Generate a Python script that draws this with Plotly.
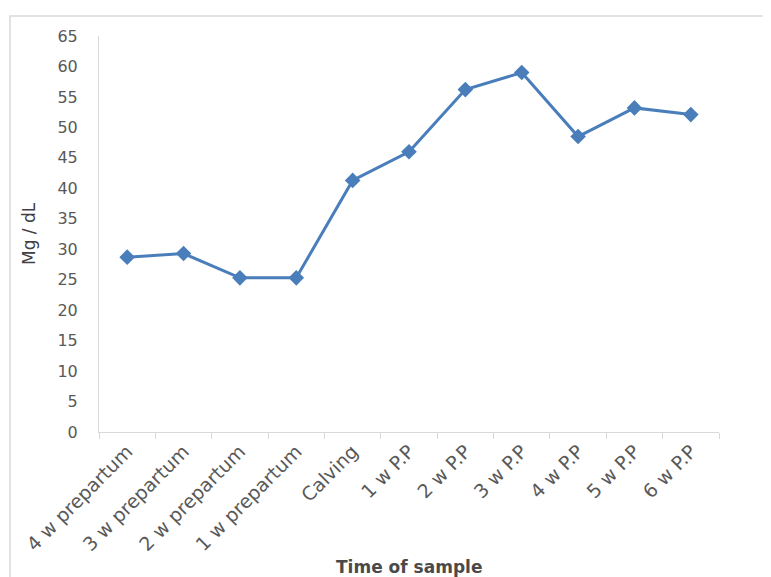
import plotly.graph_objects as go

categories = ["4 w prepartum", "3 w prepartum", "2 w prepartum", "1 w prepartum",
              "Calving", "1 w P.P", "2 w P.P", "3 w P.P", "4 w P.P", "5 w P.P", "6 w P.P"]
mg_values = [28.7, 29.3, 25.3, 25.3, 41.3, 46.0, 56.2, 59.0, 48.5, 53.2, 52.1]
y_ticks = list(range(0, 70, 5))

OFF = 8  # page body margin offset
W, H = 771 - OFF, 577 - OFF
L, T = 99 - OFF, 36 - OFF
R = W - (719 - OFF)
B = H - (432 - OFF)
pw, ph = W - L - R, H - T - B

def px_to_paper_x(x):
    return (x - OFF - L) / pw

def px_to_paper_y(y):
    return (H - B - (y - OFF)) / ph

fig = go.Figure()
fig.add_trace(go.Scatter(
    x=categories, y=mg_values, mode="lines+markers",
    line=dict(color="#4A7EBB", width=3),
    marker=dict(symbol="diamond", size=12, color="#4A7EBB"),
    showlegend=False,
))

fig.update_layout(
    width=W, height=H,
    margin=dict(l=L, r=R, t=T, b=B, autoexpand=False),
    paper_bgcolor="white", plot_bgcolor="white",
    xaxis=dict(
        type="category", range=[-0.5, len(categories) - 0.5],
        showline=True, linecolor="#D9D9D9", linewidth=1,
        ticks="outside", tickson="boundaries", ticklen=6, tickcolor="#D9D9D9",
        tickangle=-45, tickfont=dict(family="DejaVu Sans", size=19, color="#595959"),
        showgrid=False, zeroline=False, automargin=False,
    ),
    yaxis=dict(
        range=[0, 65], tickvals=y_ticks,
        showline=True, linecolor="#D9D9D9", linewidth=1,
        ticks="", tickfont=dict(family="DejaVu Sans", size=16, color="#595959"),
        ticklabelstandoff=17,
        showgrid=False, zeroline=False, automargin=False,
    ),
    shapes=[dict(
        type="rect", xref="paper", yref="paper",
        x0=px_to_paper_x(10), x1=px_to_paper_x(790),
        y0=px_to_paper_y(600), y1=px_to_paper_y(16),
        line=dict(color="#D9D9D9", width=1.5), fillcolor="rgba(0,0,0,0)", layer="below",
    )],
    annotations=[
        dict(text="Time of sample", xref="paper", yref="paper",
             x=px_to_paper_x(409), y=px_to_paper_y(567), showarrow=False,
             xanchor="center", yanchor="middle",
             font=dict(family="DejaVu Sans", size=17, color="#4A4A4A", weight="bold")),
        dict(text="Mg / dL", xref="paper", yref="paper",
             x=px_to_paper_x(29), y=px_to_paper_y(234), showarrow=False,
             textangle=-90, xanchor="center", yanchor="middle",
             font=dict(family="DejaVu Sans", size=17, color="#404040")),
    ],
)

fig.write_html("out.html")
